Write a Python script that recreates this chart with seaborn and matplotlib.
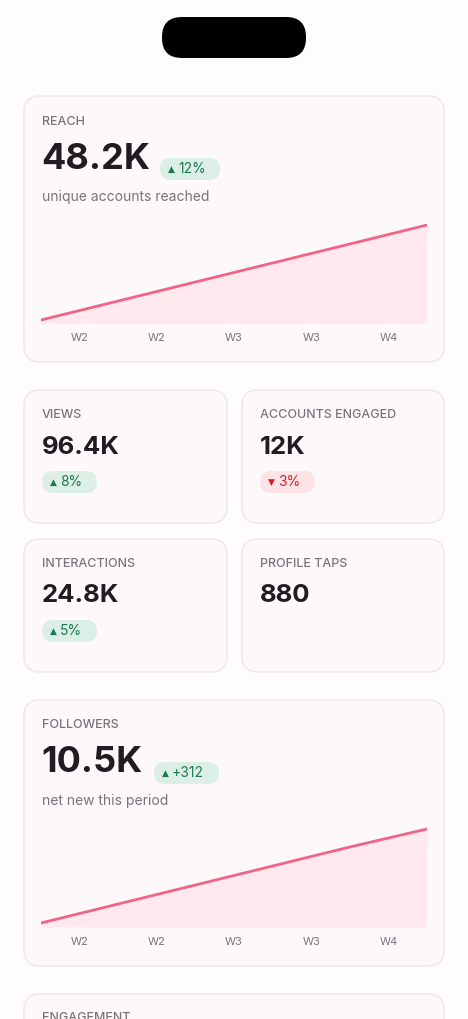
import matplotlib
matplotlib.use("Agg")
import matplotlib.pyplot as plt
from matplotlib.patches import FancyBboxPatch
import seaborn as sns
import pandas as pd

sns.set_theme(style="white")
plt.rcParams['font.family'] = ['Inter', 'DejaVu Sans']

W, H = 468, 1019
BG = "#fefcfd"
CARD = "#fdf9fb"
EDGE = "#eee9ed"
DARK = "#1f1d22"
GRAY = "#78747b"
PINK = "#f06485"
FILL = "#ffe9ee"

week_labels = ["W2", "W2", "W3", "W3", "W4"]
reach_trend = [3, 22, 41, 60, 79, 98]
followers_trend = [4, 23, 42, 61, 80, 98]

tiles = [
    ("VIEWS", "96.4K", "8%", "up"),
    ("ACCOUNTS ENGAGED", "12K", "3%", "down"),
    ("INTERACTIONS", "24.8K", "5%", "up"),
    ("PROFILE TAPS", "880", None, None),
]

fig = plt.figure(figsize=(W / 100, H / 100), dpi=100, facecolor=BG)
bg = fig.add_axes([0, 0, 1, 1])
bg.set_xlim(0, W)
bg.set_ylim(H, 0)
bg.axis("off")


def label(x, y, text):
    bg.text(x, y, text, color=GRAY, fontsize=9, va="center", weight="medium")


def card(x0, y0, x1, y1):
    bg.add_patch(FancyBboxPatch((x0, y0), x1 - x0, y1 - y0,
                                boxstyle="round,pad=0,rounding_size=16",
                                fc=CARD, ec=EDGE, lw=1.2))


def badge(x, y, text, kind, w):
    fc, tc = ("#dcefe6", "#1d7a4f") if kind == "up" else ("#fde3e6", "#d4202c")
    arrow = "▲" if kind == "up" else "▼"
    bg.add_patch(FancyBboxPatch((x, y - 11), w, 22,
                                boxstyle="round,pad=0,rounding_size=11", fc=fc, ec="none"))
    bg.text(x + 8, y, arrow, color=tc, fontsize=6.5, ha="left", va="center",
            family=['DejaVu Sans'])
    bg.text(x + 18, y, text, color=tc, fontsize=10, ha="left", va="center")


def trend(y_top, y_bot, values):
    ax = fig.add_axes([41 / W, 1 - y_bot / H, (427 - 41) / W, (y_bot - y_top) / H])
    df = pd.DataFrame({"x": range(len(values)), "v": values})
    ax.fill_between(df["x"], df["v"], color=FILL, lw=0)
    sns.lineplot(data=df, x="x", y="v", ax=ax, color=PINK, lw=2)
    ax.set_xlim(0, len(values) - 1)
    ax.set_ylim(0, 100)
    ax.axis("off")
    n = len(week_labels)
    for i, lab in enumerate(week_labels):
        px = 41 + (427 - 41) * (i + 0.5) / n
        bg.text(px, y_bot + 15, lab, color=GRAY, fontsize=8, ha="center", va="center")


# notch
bg.add_patch(FancyBboxPatch((162, 17), 144, 41, boxstyle="round,pad=0,rounding_size=20",
                            fc="black", ec="none"))

# reach card
card(24, 96, 444, 362)
label(42, 122, "REACH")
bg.text(41, 159, "48.2K", color=DARK, fontsize=26, weight="bold", va="center")
badge(160, 169, "12%", "up", 60)
bg.text(42, 197, "unique accounts reached", color=GRAY, fontsize=10, va="center")
trend(223, 323, reach_trend)

# small tiles
boxes = [(24, 390, 227, 523), (242, 390, 444, 523), (24, 539, 227, 672), (242, 539, 444, 672)]
for (lab, val, delta, kind), (x0, y0, x1, y1) in zip(tiles, boxes):
    card(x0, y0, x1, y1)
    label(x0 + 18, y0 + 25, lab)
    bg.text(x0 + 18, y0 + 57, val, color=DARK, fontsize=18.5, weight="bold", va="center")
    if delta:
        badge(x0 + 18, y0 + 92, delta, kind, 55)

# followers card
card(24, 700, 444, 966)
label(42, 725, "FOLLOWERS")
bg.text(41, 763, "10.5K", color=DARK, fontsize=26, weight="bold", va="center")
badge(154, 773, "+312", "up", 65)
bg.text(42, 801, "net new this period", color=GRAY, fontsize=10, va="center")
trend(827, 927, followers_trend)

# engagement card (cut off at the bottom edge, as in the reference)
card(24, 994, 444, 1080)
label(42, 1018, "ENGAGEMENT")

fig.savefig("out.png", dpi=100, facecolor=BG)
